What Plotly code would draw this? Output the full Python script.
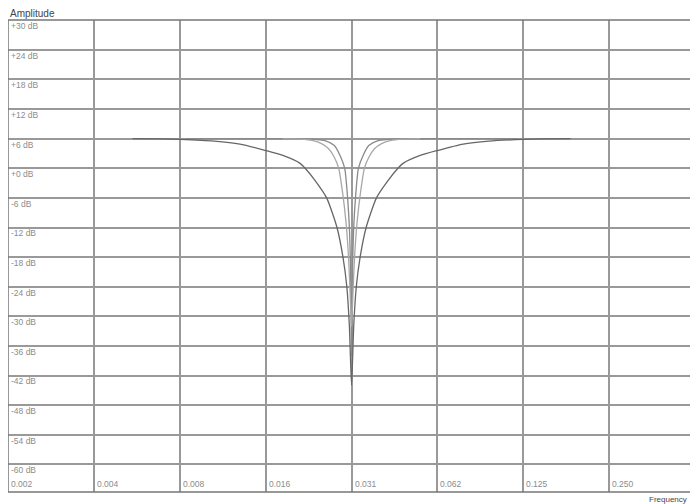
import math
import plotly.graph_objects as go

# frequency (cycles/sample) and amplitude (dB)
wide_freq = [0.00534, 0.00680, 0.00781, 0.01031, 0.01269, 0.01563, 0.01795, 0.02062,
             0.02149, 0.02336, 0.02556, 0.02778, 0.02916, 0.03008, 0.03071, 0.03125,
             0.03180, 0.03247, 0.03349, 0.03516, 0.03821, 0.04181, 0.04544, 0.04737,
             0.05441, 0.0625, 0.07695, 0.09473, 0.125, 0.14359, 0.18301]
wide_db = [6.0, 5.95, 5.85, 5.5, 4.9, 3.6, 2.6, 1.0,
           0.0, -2.6, -6.0, -12.0, -18.0, -24.0, -32.0, -44.0,
           -32.0, -24.0, -18.0, -12.0, -6.0, -2.6, 0.0, 1.0,
           2.6, 3.6, 4.9, 5.5, 5.85, 5.95, 6.0]

mid_freq = [0.01795, 0.02062, 0.02288, 0.02452, 0.02592, 0.02721, 0.02817, 0.02908,
            0.02989, 0.03050, 0.03088, 0.03125, 0.03162, 0.03202, 0.03267, 0.03358,
            0.03467, 0.03590, 0.03768, 0.03983, 0.04269, 0.04737, 0.05441]
mid_db = [6.0, 5.9, 5.6, 5.0, 4.0, 2.2, 0.0, -5.0,
          -11.0, -18.0, -25.0, -32.0, -25.0, -18.0, -11.0, -5.0,
          0.0, 2.2, 4.0, 5.0, 5.6, 5.9, 6.0]

narrow_freq = [0.00820, 0.01360, 0.02062, 0.02521, 0.02721, 0.02836, 0.02957, 0.03027,
               0.03076, 0.03099, 0.03125, 0.03151, 0.03175, 0.03226, 0.03303, 0.03443,
               0.03590, 0.03874, 0.04737, 0.07179, 0.11908]
narrow_db = [6.0, 6.0, 6.0, 5.6, 4.6, 2.8, 0.0, -6.0,
             -13.0, -20.0, -38.0, -20.0, -13.0, -6.0, 0.0, 2.8,
             4.6, 5.6, 6.0, 6.0, 6.0]

freq_ticks = [0.001953125, 0.00390625, 0.0078125, 0.015625, 0.03125, 0.0625, 0.125, 0.25]
freq_labels = ["0.002", "0.004", "0.008", "0.016", "0.031", "0.062", "0.125", "0.250"]
db_ticks = [30, 24, 18, 12, 6, 0, -6, -12, -18, -24, -30, -36, -42, -48, -54, -60]
db_labels = ["+30 dB", "+24 dB", "+18 dB", "+12 dB", "+6 dB", "+0 dB", "-6 dB", "-12 dB",
             "-18 dB", "-24 dB", "-30 dB", "-36 dB", "-42 dB", "-48 dB", "-54 dB", "-60 dB"]

tick_font = {'size': 8.5, 'color': '#8c8c8c', 'family': 'Liberation Sans'}

fig = go.Figure()

fig.add_trace(go.Scatter(x=narrow_freq, y=narrow_db, mode="lines",
                         line={'color': '#8a8a8a', 'width': 1.3, 'shape': 'spline', 'smoothing': 0.6}))
fig.add_trace(go.Scatter(x=mid_freq, y=mid_db, mode="lines",
                         line={'color': '#a8a8a8', 'width': 1.3, 'shape': 'spline', 'smoothing': 0.6}))
fig.add_trace(go.Scatter(x=wide_freq, y=wide_db, mode="lines",
                         line={'color': '#666666', 'width': 1.3, 'shape': 'spline', 'smoothing': 0.6}))

fig.update_xaxes(type="log", range=[-2.7096, -0.30103],
                 tickvals=freq_ticks, showticklabels=False, ticks="",
                 showgrid=True, gridcolor='#999999', gridwidth=1.5,
                 showline=False, zeroline=False)
fig.update_yaxes(range=[-65.6, 30.05],
                 tickvals=db_ticks, ticktext=db_labels,
                 ticklabelposition="inside bottom", ticks="", tickfont=tick_font,
                 showgrid=True, gridcolor='#999999', gridwidth=1.5,
                 showline=False, zeroline=False)

fig.add_shape(type="rect", xref="paper", yref="paper", x0=0, x1=1, y0=0, y1=1,
              line={'color': '#777777', 'width': 1.5}, layer="above")

# frequency labels sit inside the plot, just right of each grid line
# (plotly hides the first inside tick label against the frame, so they are annotations)
for f, lab in zip(freq_ticks, freq_labels):
    fig.add_annotation(text=lab, x=math.log10(f), y=0, xref="x", yref="paper",
                       xanchor="left", yanchor="bottom", xshift=1, yshift=1,
                       showarrow=False, font=tick_font)

fig.add_annotation(text="Amplitude", xref="paper", yref="paper", x=0.0, y=1.0,
                   xanchor="left", yanchor="bottom", yshift=-1, showarrow=False,
                   font={'size': 10, 'color': '#444444', 'family': 'Liberation Sans'})
fig.add_annotation(text="Frequency", xref="paper", yref="paper", x=1.0, y=0.0,
                   xanchor="right", yanchor="top", xshift=-6, yshift=-1, showarrow=False,
                   font={'size': 8, 'color': '#444444', 'family': 'Liberation Sans'})

# the page body adds an 8px margin, so the figure is sized to fit the window
fig.update_layout(width=690, height=496, showlegend=False,
                  paper_bgcolor='white', plot_bgcolor='white',
                  margin={'l': 0, 'r': 3, 't': 12, 'b': 12})

fig.write_html("out.html")
